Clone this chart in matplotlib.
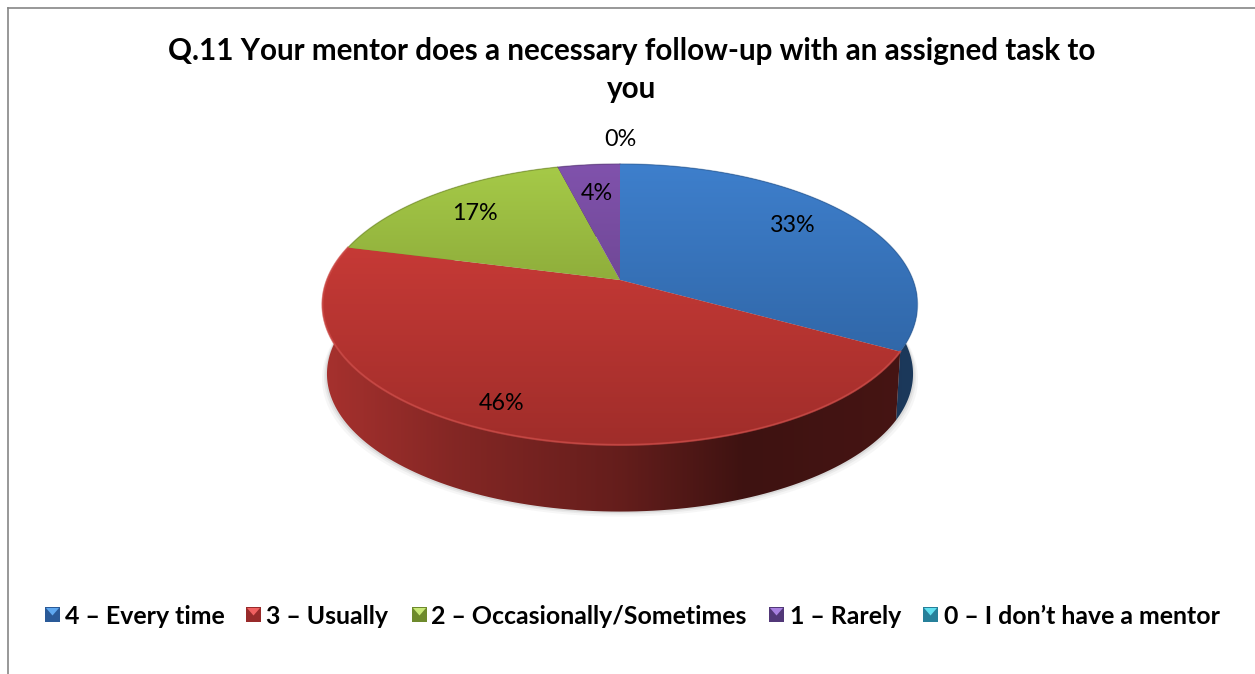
import numpy as np
import matplotlib
matplotlib.use("Agg")
import matplotlib.pyplot as plt
from matplotlib.patches import Polygon

title = "Q.11 Your mentor does a necessary follow-up with an assigned task to\nyou"
categories = ["4 – Every time", "3 – Usually", "2 – Occasionally/Sometimes", "1 – Rarely", "0 – I don’t have a mentor"]
values = [33, 46, 17, 4, 0]

top_light = ["#3E7FCC", "#D63F3B", "#A6CA48", "#8052AC", "#3AA5C0"]
top_dark = ["#2A5C98", "#A02D2A", "#6E8629", "#5A3A78", "#2A7F94"]
side_boost = [1.35, 1.0, 1.0, 1.0, 1.0]
swatch_light = ["#5FA8F0", "#F06060", "#C8E878", "#A880E0", "#60E0F0"]
swatch_dark = ["#2A5A98", "#982A2A", "#6E8A2C", "#523878", "#26809A"]

# layout, in pixels of the picture
label_xy = [(793, 226), (502, 404), (475, 214), (597, 194), (620, 140)]
legend_box_x = [45, 246, 412, 769, 923]
legend_text_x = [65, 266, 431, 790, 944]
legend_y = 616
hub = (620, 280)
rx, ry = 297.5, 140.5
ellipse_y = 304.5

# perspective of the disc, the hub sits above the middle of the ellipse
k = 0.174
a = rx * np.sqrt(1 - k * k)
b = 136.2


def rim(frac):
    t = np.asarray(frac) * 2 * np.pi
    x, y = np.sin(t), np.cos(t)
    d = 1 + k * y
    return hub[0] + a * x / d, hub[1] - b * y / d


def floor(px, py):
    return hub[0] + 0.985 * (px - hub[0]), ellipse_y + 0.98 * (py - ellipse_y) + 69.5


def hex_rgb(c):
    return np.array(matplotlib.colors.to_rgb(c))


def gradient(ax, poly, colors_arr, vertical=True, extent=(0, 1255, 445, 164), z=2):
    arr = colors_arr[:, None, :] if vertical else colors_arr[None, :, :]
    im = ax.imshow(arr, extent=extent, aspect="auto", interpolation="bilinear", zorder=z)
    patch = Polygon(poly, closed=True, transform=ax.transData, fc="none", ec="none")
    ax.add_patch(patch)
    im.set_clip_path(patch)


fig = plt.figure(figsize=(12.55, 6.74), dpi=100)
ax = fig.add_axes([0, 0, 1, 1])

fracs = np.cumsum([0] + values) / sum(values)

# soft shadow under the body
ts = np.linspace(0, 1, 400)
fx, fy = floor(*rim(ts))
for grow, alpha in [(5, 0.05), (3, 0.08), (1.5, 0.12)]:
    ax.add_patch(Polygon(np.c_[hub[0] + (fx - hub[0]) * (1 + grow / rx), fy + grow],
                         closed=True, fc="#606060", ec="none", alpha=alpha, zorder=1))

# side wall, darkening to the right
xs = np.linspace(322, 917, 300)
shade = np.interp(xs, [322, 450, 620, 745, 917], [0.78, 0.62, 0.47, 0.29, 0.33])
for i, v in enumerate(values):
    if v == 0:
        continue
    t = np.linspace(fracs[i], fracs[i + 1], 120)
    px, py = rim(t)
    qx, qy = floor(px, py)
    poly = np.r_[np.c_[px, py], np.c_[qx, qy][::-1]]
    cols = hex_rgb(top_light[i])[None, :] * shade[:, None] * side_boost[i]
    gradient(ax, poly, np.clip(cols, 0, 1), vertical=False, extent=(322, 917, 520, 160), z=2 + i * 0.01)

# top face
ramp = np.linspace(0, 1, 100)[:, None]
for i, v in enumerate(values):
    if v == 0:
        continue
    t = np.linspace(fracs[i], fracs[i + 1], 200)
    px, py = rim(t)
    poly = np.r_[[hub], np.c_[px, py]]
    cols = hex_rgb(top_light[i]) * (1 - ramp) + hex_rgb(top_dark[i]) * ramp
    # first row of the image is the top of the extent
    gradient(ax, poly, cols, extent=(0, 1255, 445, 164), z=3)
    ax.plot(px, py, color=top_dark[i], lw=1.0, alpha=0.5, zorder=4, solid_capstyle="round")

# lighter bevel on the rim of the big slice
t = np.linspace(fracs[1], fracs[2], 200)
px, py = rim(t)
ax.plot(px, py, color="#D8504C", lw=1.5, alpha=0.6, zorder=4)

for i, v in enumerate(values):
    ax.text(label_xy[i][0], label_xy[i][1], f"{v}%", ha="center", va="center",
            fontsize=16.8, family="Lato", color="black", zorder=6)

ax.text(632, 70, title, ha="center", va="center", fontsize=21.3, family="Lato",
        fontweight="bold", color="black", linespacing=1.4, zorder=6)

# legend
for i, name in enumerate(categories):
    x0 = legend_box_x[i]
    s = 15
    y0 = legend_y - 9
    ax.add_patch(Polygon([(x0, y0), (x0 + s, y0), (x0 + s, y0 + s), (x0, y0 + s)], fc=swatch_dark[i], ec="none", zorder=5))
    ax.add_patch(Polygon([(x0 + 1, y0 + 1), (x0 + s - 1, y0 + 1), (x0 + s / 2, y0 + s / 2 + 1)], fc=swatch_light[i], ec="none", zorder=6))
    ax.text(legend_text_x[i], legend_y, name, ha="left", va="center", fontsize=17.9,
            family="Lato", fontweight="bold", color="black", zorder=6)

# chart border, only left and top show
ax.plot([8, 8], [674, 8], color="#868686", lw=1.2, zorder=7)
ax.plot([8, 1255], [8, 8], color="#868686", lw=1.2, zorder=7)

ax.set_xlim(0, 1255)
ax.set_ylim(674, 0)
ax.axis("off")

fig.savefig("out.png", dpi=100, facecolor="white")
